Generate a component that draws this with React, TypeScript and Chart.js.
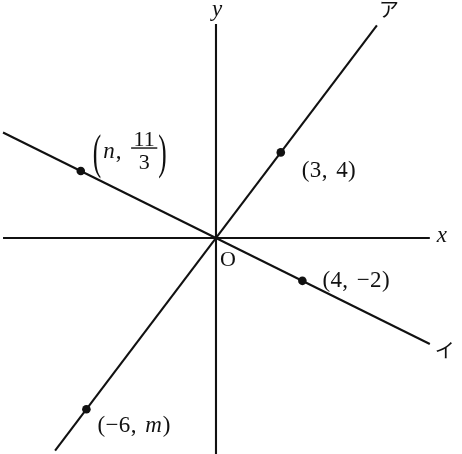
import { useEffect, useRef } from 'react';
import { Chart, registerables } from 'chart.js';

Chart.register(...registerables);

// visible extents of the two axes (data units)
const xAxisEnds = [-9.86, 9.9];
const yAxisEnds = [-10.1, 10.0];

// line ア passes O and (3, 4); line イ passes O and (4, -2)
const lineAX = [-7.45, 7.45];
const lineAY = [-9.93, 9.93];
const lineIX = [-9.86, 9.9];
const lineIY = [4.93, -4.95];

// marked points, as they sit in the figure
const pointX = [-6.26, 3, 4, -6];
const pointY = [3.13, 4, -2, -8];
const pointLabels = ['(n, 11/3)', '(3, 4)', '(4, −2)', '(−6, m)'];

const ink = '#111';
const serif = '"Liberation Serif", "DejaVu Serif", serif';
const jp = '"Noto Sans CJK JP", sans-serif';

// label placement relative to each point, in px
const labelOffsets = [
  [12, -23],
  [21, 17],
  [20, -1],
  [11, 15],
];

function drawLabel(ctx: CanvasRenderingContext2D, label: string, left: number, mid: number) {
  const tall = label.includes('/');
  const tokens = label.match(/\d+\/\d+|./g) || [];
  const base = tall ? mid + 10 : mid + 7.5;
  let x = left;
  ctx.textAlign = 'left';
  ctx.textBaseline = 'alphabetic';
  for (const tk of tokens) {
    if (tk.includes('/')) {
      const [num, den] = tk.split('/');
      ctx.font = `22px ${serif}`;
      x += 1;
      const w = Math.max(ctx.measureText(num).width, ctx.measureText(den).width) + 5;
      ctx.textAlign = 'center';
      ctx.fillText(num, x + w / 2, mid - 2);
      ctx.fillText(den, x + w / 2, mid + 21);
      ctx.fillRect(x, mid - 0.7, w, 1.4);
      ctx.textAlign = 'left';
      x += w + 1;
    } else if ((tk === '(' || tk === ')') && tall) {
      ctx.font = `22px ${serif}`;
      const w = ctx.measureText(tk).width;
      ctx.save();
      ctx.translate(x, mid + 8);
      ctx.scale(1.15, 2.25);
      ctx.fillText(tk, 0, 5.3);
      ctx.restore();
      x += w * 1.15 + 2;
    } else if (/[a-z]/i.test(tk)) {
      ctx.font = `italic 23px ${serif}`;
      ctx.fillText(tk, x, base);
      x += ctx.measureText(tk).width + 1;
    } else {
      ctx.font = `23px ${serif}`;
      ctx.fillText(tk, x, base);
      x += ctx.measureText(tk).width + (tk === ' ' ? 2.5 : 0.4);
    }
  }
}

const figureText = {
  id: 'figureText',
  afterDatasetsDraw(chart: Chart) {
    const ctx = chart.ctx;
    const xs = chart.scales.x;
    const ys = chart.scales.y;
    ctx.save();
    ctx.fillStyle = ink;

    pointX.forEach((px, i) => {
      const [dx, dy] = labelOffsets[i];
      drawLabel(ctx, pointLabels[i], xs.getPixelForValue(px) + dx, ys.getPixelForValue(pointY[i]) + dy);
    });

    ctx.textAlign = 'center';
    ctx.textBaseline = 'middle';
    ctx.font = `italic 23px ${serif}`;
    ctx.fillText('x', xs.getPixelForValue(xAxisEnds[1]) + 12, ys.getPixelForValue(0) - 2);
    ctx.fillText('y', xs.getPixelForValue(0) + 1, ys.getPixelForValue(yAxisEnds[1]) - 14);

    ctx.font = `22px ${serif}`;
    ctx.fillText('O', xs.getPixelForValue(0) + 12, ys.getPixelForValue(0) + 22);

    ctx.font = `20px ${jp}`;
    ctx.fillText('ア', xs.getPixelForValue(lineAX[1]) + 12, ys.getPixelForValue(lineAY[1]) - 16);
    ctx.fillText('イ', xs.getPixelForValue(lineIX[1]) + 15, ys.getPixelForValue(lineIY[1]) + 6);
    ctx.restore();
  },
};

const seg = (xv: number[], yv: number[]) => xv.map((x, i) => ({ x, y: yv[i] }));

const lineStyle = {
  type: 'line' as const,
  borderColor: ink,
  borderWidth: 2.1,
  pointRadius: 0,
  fill: false,
  showLine: true,
};

export default function App() {
  const canvasRef = useRef<HTMLCanvasElement>(null);

  useEffect(() => {
    if (!canvasRef.current) return;
    document.body.style.margin = '0';

    const chart = new Chart(canvasRef.current, {
      type: 'scatter',
      data: {
        datasets: [
          { ...lineStyle, data: seg(xAxisEnds, [0, 0]) },
          { ...lineStyle, data: seg([0, 0], yAxisEnds) },
          { ...lineStyle, data: seg(lineAX, lineAY) },
          { ...lineStyle, data: seg(lineIX, lineIY) },
          {
            data: seg(pointX, pointY),
            pointRadius: 4.3,
            pointHoverRadius: 4.3,
            pointBackgroundColor: ink,
            pointBorderColor: ink,
            pointBorderWidth: 0,
          },
        ],
      },
      options: {
        responsive: true,
        maintainAspectRatio: false,
        animation: false,
        layout: { padding: 0, autoPadding: false },
        plugins: { legend: { display: false }, tooltip: { enabled: false } },
        scales: {
          x: { type: 'linear', min: -10, max: 11.39, display: false },
          y: { type: 'linear', min: -10.09, max: 11.12, display: false },
        },
      },
      plugins: [figureText],
    });

    return () => chart.destroy();
  }, []);

  return (
    <div style={{ width: 462, height: 454, background: '#fff' }}>
      <canvas ref={canvasRef} />
    </div>
  );
}
